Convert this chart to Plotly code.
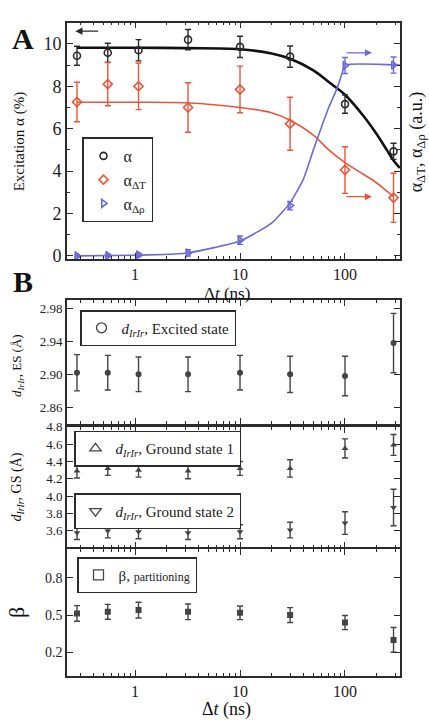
import math
import plotly.graph_objects as go

# ---------------- data ----------------
dt = [0.28, 0.55, 1.08, 3.2, 10, 30, 100, 290]

alpha = [9.44, 9.58, 9.70, 10.2, 9.86, 9.40, 7.16, 4.93]
alpha_err = [0.45, 0.45, 0.50, 0.48, 0.50, 0.50, 0.43, 0.38]
alpha_dT = [7.26, 8.10, 8.00, 7.00, 7.85, 6.23, 4.05, 2.74]
alpha_dT_err = [0.93, 1.02, 1.10, 1.17, 1.10, 1.25, 1.10, 1.16]
alpha_drho = [0.00, 0.02, 0.05, 0.14, 0.74, 2.37, 8.98, 9.00]
alpha_drho_err = [0.06, 0.06, 0.08, 0.15, 0.20, 0.20, 0.38, 0.38]

fit_alpha_t = [0.28, 1, 3, 10, 20, 30, 50, 70, 100, 150, 200, 250, 290, 333]
fit_alpha = [9.82, 9.82, 9.80, 9.75, 9.55, 9.30, 8.75, 8.20, 7.60, 6.60, 5.75, 5.00, 4.50, 4.15]
fit_dT_t = [0.28, 1, 3, 10, 20, 30, 50, 70, 100, 150, 200, 250, 290]
fit_dT = [7.25, 7.25, 7.22, 7.00, 6.75, 6.40, 5.70, 5.00, 4.40, 3.85, 3.45, 3.05, 2.80]
fit_drho_t = [0.28, 1, 3, 10, 20, 30, 40, 50, 60, 70, 84, 95, 100, 333]
fit_drho = [0.00, 0.03, 0.12, 0.70, 1.55, 2.50, 3.60, 5.00, 6.10, 7.00, 7.90, 8.70, 9.00, 9.00]

es = [2.902, 2.902, 2.900, 2.900, 2.902, 2.900, 2.898, 2.938]
es_err = [0.022, 0.021, 0.021, 0.021, 0.021, 0.022, 0.024, 0.036]
gs1 = [4.29, 4.32, 4.30, 4.29, 4.32, 4.32, 4.55, 4.59]
gs1_err = [0.08, 0.08, 0.08, 0.09, 0.08, 0.10, 0.11, 0.12]
gs2 = [3.58, 3.60, 3.59, 3.58, 3.59, 3.61, 3.69, 3.87]
gs2_err = [0.08, 0.08, 0.08, 0.08, 0.08, 0.09, 0.13, 0.21]
beta = [0.513, 0.526, 0.540, 0.526, 0.518, 0.500, 0.440, 0.300]
beta_err = [0.063, 0.060, 0.063, 0.063, 0.055, 0.060, 0.057, 0.100]

x_ticks = [1, 10, 100]
x_ticktext = ["1", "10", "100"]
x_minor = [0.3, 0.4, 0.5, 0.6, 0.7, 0.8, 0.9,
           2, 3, 4, 5, 6, 7, 8, 9,
           20, 30, 40, 50, 60, 70, 80, 90,
           200, 300]

# ---------------- style ----------------
W, H = 429, 726
FONT = "Liberation Serif"
BLACK = "#2b2b2b"
RED = "#e8563a"
BLUE = "#6b6bd6"
GRAY = "#444444"

def px(x):
    return x / W

def py(y):
    return 1 - y / H

fig = go.Figure()

def err(vals, color):
    return dict(type="data", array=vals, visible=True, color=color, thickness=1.4, width=3)

# Panel A fits
fig.add_trace(go.Scatter(x=fit_alpha_t, y=fit_alpha, mode="lines", line=dict(color="#111", width=2.6, shape="spline"),
                         showlegend=False, xaxis="x", yaxis="y", hoverinfo="skip"))
fig.add_trace(go.Scatter(x=fit_dT_t, y=fit_dT, mode="lines", line=dict(color=RED, width=1.6, shape="spline"),
                         showlegend=False, xaxis="x", yaxis="y", hoverinfo="skip"))
fig.add_trace(go.Scatter(x=fit_drho_t, y=fit_drho, mode="lines", line=dict(color=BLUE, width=1.6, shape="spline", smoothing=0.5),
                         showlegend=False, xaxis="x", yaxis="y", hoverinfo="skip"))

# Panel A data
fig.add_trace(go.Scatter(x=dt, y=alpha, error_y=err(alpha_err, BLACK), mode="markers", name="α",
                         marker=dict(symbol="circle-open", size=7, color=BLACK, line=dict(width=1.6)),
                         xaxis="x", yaxis="y", legend="legend"))
fig.add_trace(go.Scatter(x=dt, y=alpha_dT, error_y=err(alpha_dT_err, RED), mode="markers", name="α<sub>ΔT</sub>",
                         marker=dict(symbol="diamond-open", size=7, color=RED, line=dict(width=1.6)),
                         xaxis="x", yaxis="y", legend="legend"))
fig.add_trace(go.Scatter(x=dt, y=alpha_drho, error_y=err(alpha_drho_err, BLUE), mode="markers", name="α<sub>Δρ</sub>",
                         marker=dict(symbol="triangle-right-open", size=7, color=BLUE, line=dict(width=1.6)),
                         xaxis="x", yaxis="y", legend="legend"))

# Panel B data
def bdata(y, e, sym, xa, ya):
    fig.add_trace(go.Scatter(x=dt, y=y, error_y=err(e, GRAY), mode="markers", showlegend=False,
                             marker=dict(symbol=sym, size=6, color=GRAY),
                             xaxis=xa, yaxis=ya))

def blegend(name, sym, xa, ya, leg):
    fig.add_trace(go.Scatter(x=[None], y=[None], mode="markers", name=name,
                             marker=dict(symbol=sym, size=10, color=GRAY, line=dict(width=1.3)),
                             xaxis=xa, yaxis=ya, legend=leg))

bdata(es, es_err, "circle", "x2", "y2")
bdata(gs1, gs1_err, "triangle-up", "x3", "y3")
bdata(gs2, gs2_err, "triangle-down", "x3", "y3")
bdata(beta, beta_err, "square", "x4", "y4")

blegend("<i>d</i><sub><i>IrIr</i></sub>, Excited state", "circle-open", "x2", "y2", "legend2")
blegend("<i>d</i><sub><i>IrIr</i></sub>, Ground state 1", "triangle-up-open", "x3", "y3", "legend3")
blegend("<i>d</i><sub><i>IrIr</i></sub>, Ground state 2", "triangle-down-open", "x3", "y3", "legend4")
blegend("β, <span style='font-size:12px'>partitioning</span>", "square-open", "x4", "y4", "legend5")

# ---------------- axes ----------------
xdom = [px(67), px(400)]
xrange_log = [-0.648, 2.524]

def xaxis(anchor, labels, tfs):
    return dict(domain=xdom, anchor=anchor, type="log", range=xrange_log,
                tickvals=x_ticks, ticktext=x_ticktext, showticklabels=labels,
                ticks="inside", ticklen=6, tickwidth=1.3, tickcolor=BLACK,
                mirror="ticks", showline=True, linewidth=1.6, linecolor=BLACK,
                showgrid=False, zeroline=False, ticklabelstandoff=0,
                minor=dict(tickvals=x_minor, ticks="inside", ticklen=3, tickwidth=1,
                           tickcolor=BLACK, showgrid=False),
                tickfont=dict(family=FONT, size=tfs, color="#222"))

def yaxis(anchor, dom, rng, dtick, tick0, tfs, fmt=None, minor_dtick=None):
    d = dict(domain=dom, anchor=anchor, range=rng, dtick=dtick, tick0=tick0,
             ticks="inside", ticklen=6, tickwidth=1.3, tickcolor=BLACK,
             mirror="ticks", showline=True, linewidth=1.6, linecolor=BLACK,
             showgrid=False, zeroline=False,
             tickfont=dict(family=FONT, size=tfs, color="#222"))
    if fmt:
        d["tickformat"] = fmt
    if minor_dtick:
        d["minor"] = dict(ticks="inside", ticklen=3, tickwidth=1, tickcolor=BLACK, dtick=minor_dtick, showgrid=False)
    return d

layout = dict(
    width=W, height=H, margin=dict(l=0, r=0, t=0, b=0),
    paper_bgcolor="white", plot_bgcolor="white",
    font=dict(family=FONT, color="#222"),
    xaxis=xaxis("y", True, 16),
    yaxis=yaxis("x", [py(257), py(16)], [-0.15, 11.0], 2, 0, 18, minor_dtick=1),
    xaxis2=xaxis("y2", False, 14),
    yaxis2=yaxis("x2", [py(425), py(299)], [2.84, 2.99], 0.04, 2.86, 13, ".2f"),
    xaxis3=xaxis("y3", False, 14),
    yaxis3=yaxis("x3", [py(551), py(428)], [3.41, 4.80], 0.2, 3.6, 13, ".1f"),
    xaxis4=xaxis("y4", True, 16),
    yaxis4=yaxis("x4", [py(682), py(553)], [0.01, 1.03], 0.3, 0.2, 14, ".1f"),
)

def legend(x, y, size):
    return dict(x=px(x), y=py(y), xanchor="left", yanchor="top", bgcolor="white",
                bordercolor=BLACK, borderwidth=1.5, font=dict(family=FONT, size=size, color="#222"),
                itemwidth=30, tracegroupgap=0, traceorder="normal")

layout["legend"] = legend(82, 133, 16)
layout["legend2"] = legend(80, 309, 15)
layout["legend3"] = legend(74, 432, 15)
layout["legend4"] = legend(74, 496, 15)
layout["legend5"] = legend(77, 561, 15)

fig.update_layout(**layout)

# ---------------- annotations ----------------
ann = []
def arrow(x_head, x_tail, yv, color):
    ann.append(dict(x=math.log10(x_head), y=yv, ax=math.log10(x_tail), ay=yv, xref="x", yref="y",
                    axref="x", ayref="y", showarrow=True, arrowhead=2, arrowsize=1.1,
                    arrowwidth=1.3, arrowcolor=color, text=""))

arrow(0.27, 0.46, 10.6, BLACK)
arrow(181, 100, 9.58, BLUE)
arrow(181, 100, 2.79, RED)

def txt(x, y, s, size, angle=0, bold=False):
    if bold:
        s = "<b>" + s + "</b>"
    ann.append(dict(x=px(x), y=py(y), xref="paper", yref="paper", text=s, showarrow=False,
                    textangle=angle, xanchor="center", yanchor="middle",
                    font=dict(family=FONT, size=size, color="#111")))

txt(23, 32, "A", 30, bold=True)
txt(23, 280, "B", 30, bold=True)
txt(19, 137, "Excitation α (%)", 15, angle=-90)
txt(417, 138, "α<sub>ΔT</sub>, α<sub>Δρ</sub> (a.u.)", 18, angle=-90)
txt(227, 292, "Δ<i>t</i> (ns)", 17)
txt(227, 716, "Δ<i>t</i> (ns)", 18)
txt(18, 366, "<i>d</i><sub><i>IrIr</i></sub>, ES (Å)", 13, angle=-90)
txt(18, 490, "<i>d</i><sub><i>IrIr</i></sub>, GS (Å)", 14, angle=-90)
txt(16, 618, "β", 22, angle=-90)

fig.update_layout(annotations=ann)
fig.write_html("out.html")
